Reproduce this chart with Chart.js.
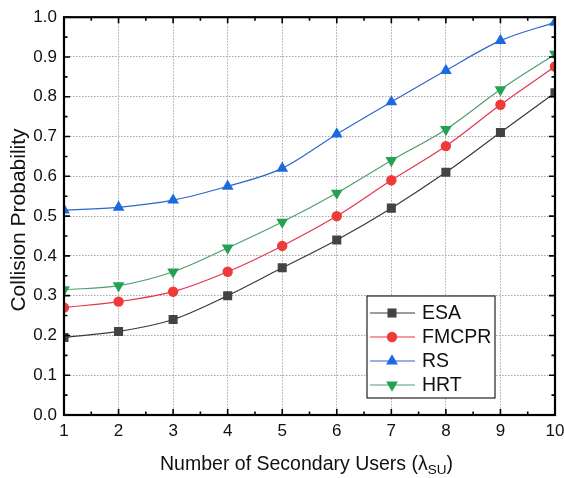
<!DOCTYPE html>
<html>
<head>
<meta charset="utf-8">
<script src="https://cdn.jsdelivr.net/npm/chart.js@4"></script>
<style>
  html, body { margin: 0; padding: 0; background: #fff; }
  #wrap { width: 564px; height: 478px; }
</style>
</head>
<body>
<div id="wrap"><canvas id="chart" width="564" height="478"></canvas></div>
<script>
const users = [1, 2, 3, 4, 5, 6, 7, 8, 9, 10];
const esa   = [0.195, 0.21, 0.24, 0.30, 0.37, 0.44, 0.52, 0.61, 0.71, 0.81];
const fmcpr = [0.27, 0.285, 0.31, 0.36, 0.425, 0.50, 0.59, 0.676, 0.78, 0.876];
const rs    = [0.515, 0.522, 0.54, 0.575, 0.62, 0.706, 0.787, 0.866, 0.941, 0.987];
const hrt   = [0.315, 0.325, 0.36, 0.42, 0.485, 0.558, 0.64, 0.718, 0.818, 0.907];
const seriesNames = ["ESA", "FMCPR", "RS", "HRT"];

const FONT = "'Liberation Sans', Arial, sans-serif";

function makeSet(label, values, line, fill, style, rot, r) {
    return {
        label: label,
        data: users.map((u, i) => ({ x: u, y: values[i] })),
        borderColor: line,
        backgroundColor: fill,
        pointBackgroundColor: fill,
        pointBorderColor: fill,
        pointStyle: style,
        pointRotation: rot,
        pointRadius: r,
        pointBorderWidth: 0,
        borderWidth: 1.2,
        cubicInterpolationMode: 'monotone',
        tension: 0.4,
        fill: false
    };
}

// frame, inward ticks, axis titles and the legend
const decor = {
    id: 'decor',
    afterDraw(chart) {
        const ctx = chart.ctx;
        const a = chart.chartArea;
        const xs = chart.scales.x, ys = chart.scales.y;
        ctx.save();
        ctx.strokeStyle = '#000';
        ctx.lineWidth = 1.6;
        for (let v = 1; v <= 10.001; v += 0.5) {
            const px = xs.getPixelForValue(v);
            const len = Math.abs(v - Math.round(v)) < 0.01 ? 6 : 3.5;
            ctx.beginPath();
            ctx.moveTo(px, a.bottom); ctx.lineTo(px, a.bottom - len);
            ctx.moveTo(px, a.top); ctx.lineTo(px, a.top + len);
            ctx.stroke();
        }
        for (let k = 0; k <= 20; k++) {
            const py = ys.getPixelForValue(k * 0.05);
            const len = k % 2 === 0 ? 6 : 3.5;
            ctx.beginPath();
            ctx.moveTo(a.left, py); ctx.lineTo(a.left + len, py);
            ctx.moveTo(a.right, py); ctx.lineTo(a.right - len, py);
            ctx.stroke();
        }
        ctx.lineWidth = 2.2;
        ctx.strokeRect(a.left, a.top, a.right - a.left, a.bottom - a.top);

        // axis titles
        ctx.fillStyle = '#111';
        ctx.textBaseline = 'alphabetic';
        const main = 'Number of Secondary Users (\u03bb';
        ctx.font = '19.5px ' + FONT;
        const w1 = ctx.measureText(main).width;
        const w3 = ctx.measureText(')').width;
        ctx.font = '13.5px ' + FONT;
        const w2 = ctx.measureText('SU').width;
        let x0 = (a.left + a.right) / 2 - (w1 + w2 + w3) / 2 - 3;
        const base = 470;
        ctx.textAlign = 'left';
        ctx.font = '19.5px ' + FONT;
        ctx.fillText(main, x0, base);
        ctx.font = '13.5px ' + FONT;
        ctx.fillText('SU', x0 + w1, base + 4);
        ctx.font = '19.5px ' + FONT;
        ctx.fillText(')', x0 + w1 + w2, base);

        ctx.save();
        ctx.translate(25, 220);
        ctx.rotate(-Math.PI / 2);
        ctx.textAlign = 'center';
        ctx.font = '21px ' + FONT;
        ctx.fillText('Collision Probability', 0, 0);
        ctx.restore();

        // legend box
        const lx = 367, ly = 296, lw = 128, lh = 102;
        ctx.fillStyle = '#fff';
        ctx.fillRect(lx, ly, lw, lh);
        ctx.strokeStyle = '#222';
        ctx.lineWidth = 1.2;
        ctx.strokeRect(lx, ly, lw, lh);
        chart.data.datasets.forEach((ds, i) => {
            const cy = ly + 17 + i * 24;
            ctx.strokeStyle = ds.borderColor;
            ctx.lineWidth = 1.2;
            ctx.beginPath();
            ctx.moveTo(lx + 3, cy); ctx.lineTo(lx + 48, cy);
            ctx.stroke();
            drawMarker(ctx, ds.pointStyle, ds.pointRotation, ds.pointRadius, lx + 25, cy, ds.pointBackgroundColor);
            ctx.fillStyle = '#111';
            ctx.font = '19.5px ' + FONT;
            ctx.textAlign = 'left';
            ctx.textBaseline = 'middle';
            ctx.fillText(ds.label, lx + 55, cy + 1);
        });
        ctx.restore();
    }
};

function drawMarker(ctx, style, rot, r, x, y, color) {
    ctx.fillStyle = color;
    ctx.beginPath();
    if (style === 'rect') {
        const s = r * Math.SQRT1_2;
        ctx.rect(x - s, y - s, 2 * s, 2 * s);
    } else if (style === 'circle') {
        ctx.arc(x, y, r, 0, Math.PI * 2);
    } else {
        const d = rot === 180 ? -1 : 1;
        ctx.moveTo(x, y - d * r);
        ctx.lineTo(x + r * Math.sin(Math.PI / 3), y + d * r / 2);
        ctx.lineTo(x - r * Math.sin(Math.PI / 3), y + d * r / 2);
        ctx.closePath();
    }
    ctx.fill();
}

new Chart(document.getElementById('chart'), {
    type: 'line',
    data: {
        datasets: [
            makeSet(seriesNames[0], esa, '#3a3a3a', '#434343', 'rect', 0, 6.4),
            makeSet(seriesNames[1], fmcpr, '#e5354a', '#ef3a3a', 'circle', 0, 5.2),
            makeSet(seriesNames[2], rs, '#2d66cc', '#1c6ae0', 'triangle', 0, 6.8),
            makeSet(seriesNames[3], hrt, '#4f9e6e', '#24a253', 'triangle', 180, 6.8)
        ]
    },
    options: {
        responsive: false,
        animation: false,
        devicePixelRatio: 1,
        layout: { padding: { top: 14, right: 0, left: 0, bottom: 0 } },
        plugins: { legend: { display: false }, tooltip: { enabled: false } },
        scales: {
            x: {
                type: 'linear',
                min: 1, max: 10,
                afterFit: s => { s.height = 63; s.paddingRight = 9; },
                ticks: {
                    stepSize: 1,
                    padding: 6,
                    color: '#111',
                    font: { family: FONT, size: 17 }
                },
                grid: { color: '#a8a8a8', lineWidth: 1, drawTicks: false },
                border: { display: false, dash: [1.5, 1.5] }
            },
            y: {
                min: 0, max: 1,
                afterFit: s => { s.width = 64; },
                ticks: {
                    stepSize: 0.1,
                    padding: 7,
                    color: '#111',
                    font: { family: FONT, size: 17 },
                    callback: v => v.toFixed(1)
                },
                grid: { color: '#a8a8a8', lineWidth: 1, drawTicks: false },
                border: { display: false, dash: [1.5, 1.5] }
            }
        }
    },
    plugins: [decor]
});
</script>
</body>
</html>
